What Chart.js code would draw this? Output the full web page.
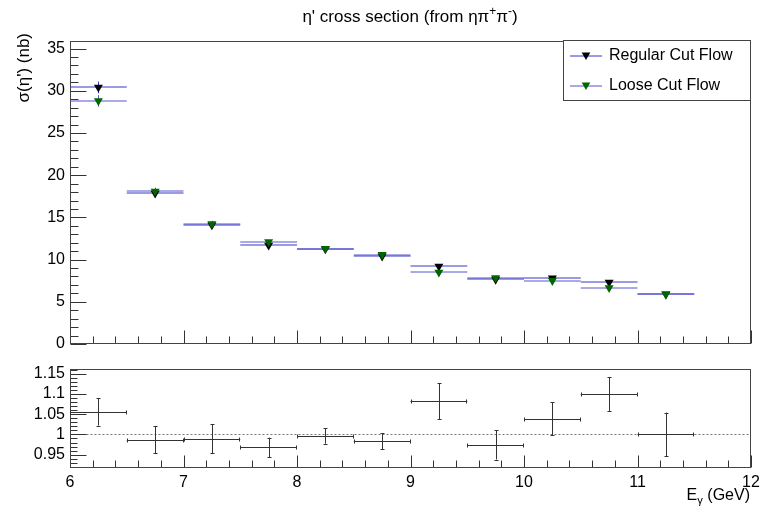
<!DOCTYPE html>
<html>
<head>
<meta charset="utf-8">
<script src="https://cdn.jsdelivr.net/npm/chart.js@4.4.1/dist/chart.umd.min.js"></script>
<style>
html, body { margin: 0; padding: 0; background: #fff; }
#wrap { position: relative; width: 760px; height: 508px; }
canvas { position: absolute; left: 0; }
#topPad { top: 0; }
#ratioPad { top: 355px; }
</style>
</head>
<body>
<div id="wrap">
  <canvas id="topPad" width="760" height="355"></canvas>
  <canvas id="ratioPad" width="760" height="153"></canvas>
</div>
<script>
/* DATA */
const binCenters = [6.25, 6.75, 7.25, 7.75, 8.25, 8.75, 9.25, 9.75, 10.25, 10.75, 11.25];
const binHalfWidth = 0.25;

const regularXs = [30.4, 17.85, 14.1, 11.7, 11.25, 10.4, 9.2, 7.65, 7.8, 7.3, 5.9];
const regularErr = [0.7, 0.42, 0.35, 0.22, 0.16, 0.15, 0.28, 0.2, 0.22, 0.22, 0.22];
const looseXs = [28.8, 18.1, 14.25, 12.1, 11.3, 10.58, 8.5, 7.85, 7.5, 6.65, 5.9];
const looseErr = [0.68, 0.42, 0.35, 0.22, 0.16, 0.15, 0.25, 0.2, 0.2, 0.2, 0.22];

const ratioVals = [1.056, 0.987, 0.989, 0.968, 0.996, 0.983, 1.082, 0.974, 1.039, 1.1, 1.0];
const ratioErr = [0.034, 0.033, 0.036, 0.024, 0.019, 0.02, 0.044, 0.036, 0.041, 0.042, 0.054];

const FONT = "'Liberation Sans', Arial, Helvetica, sans-serif";
Chart.defaults.font.family = FONT;
Chart.defaults.font.size = 16;
Chart.defaults.color = '#000';

/* rich text: parts = [[text, mode]] mode 0 normal, 1 sup, -1 sub */
function richDraw(ctx, parts, x, y, size, align) {
    let total = 0;
    const widths = parts.map(([t, m]) => {
        ctx.font = `${m ? size * 0.7 : size}px ${FONT}`;
        const w = ctx.measureText(t).width;
        total += w;
        return w;
    });
    let cx = align === 'right' ? x - total : align === 'center' ? x - total / 2 : x;
    ctx.textBaseline = 'alphabetic';
    ctx.textAlign = 'left';
    parts.forEach(([t, m], i) => {
        ctx.font = `${m ? size * 0.7 : size}px ${FONT}`;
        const dy = m === 1 ? -size * 0.42 : m === -1 ? size * 0.25 : 0;
        ctx.fillText(t, cx, y + dy);
        cx += widths[i];
    });
}

function drawTriangle(ctx, x, y, r, fill) {
    ctx.beginPath();
    ctx.moveTo(x, y + r);
    ctx.lineTo(x - r * 0.866, y - r / 2);
    ctx.lineTo(x + r * 0.866, y - r / 2);
    ctx.closePath();
    ctx.fillStyle = fill;
    ctx.fill();
}

/* error bars drawn through the chart's own scales */
const binErrorBars = {
    id: 'binErrorBars',
    beforeDatasetsDraw(chart) {
        const ctx = chart.ctx;
        const xs = chart.scales.x, ys = chart.scales.y;
        const area = chart.chartArea;
        ctx.save();
        ctx.beginPath();
        ctx.rect(area.left, area.top, area.right - area.left, area.bottom - area.top);
        ctx.clip();
        chart.data.datasets.forEach(ds => {
            ctx.strokeStyle = ds.barColor;
            ctx.lineWidth = 1;
            const off = ds.caps ? 0.5 : 0;
            ds.data.forEach((p, i) => {
                const x0 = xs.getPixelForValue(p.x - binHalfWidth);
                const x1 = xs.getPixelForValue(p.x + binHalfWidth);
                const xc = Math.round(xs.getPixelForValue(p.x)) + 0.5;
                const yc = Math.round(ys.getPixelForValue(p.y)) + off;
                const yt = ys.getPixelForValue(p.y + ds.yErr[i]);
                const yb = ys.getPixelForValue(p.y - ds.yErr[i]);
                ctx.beginPath();
                ctx.moveTo(x0, yc); ctx.lineTo(x1, yc);
                ctx.moveTo(xc, yt); ctx.lineTo(xc, yb);
                if (ds.caps) {
                    ctx.moveTo(Math.round(x0) + 0.5, yc - 2); ctx.lineTo(Math.round(x0) + 0.5, yc + 2);
                    ctx.moveTo(Math.round(x1) - 0.5, yc - 2); ctx.lineTo(Math.round(x1) - 0.5, yc + 2);
                    ctx.moveTo(xc - 2, Math.round(yt) + 0.5); ctx.lineTo(xc + 2, Math.round(yt) + 0.5);
                    ctx.moveTo(xc - 2, Math.round(yb) + 0.5); ctx.lineTo(xc + 2, Math.round(yb) + 0.5);
                }
                ctx.stroke();
            });
        });
        ctx.restore();
    }
};

/* ROOT-like frame with inside ticks */
const padFrame = {
    id: 'padFrame',
    beforeDatasetsDraw(chart, args, opts) {
        const ctx = chart.ctx;
        const a = chart.chartArea;
        const xs = chart.scales.x, ys = chart.scales.y;
        const L = Math.round(a.left) + 0.5, R = Math.round(a.right) - 0.5;
        const T = Math.round(a.top) + 0.5, B = Math.round(a.bottom) - 0.5;
        ctx.save();
        if (opts.refLine !== undefined) {
            const yr = Math.round(ys.getPixelForValue(opts.refLine)) + 0.5;
            ctx.strokeStyle = '#777';
            ctx.setLineDash([2, 2]);
            ctx.beginPath(); ctx.moveTo(L, yr); ctx.lineTo(R, yr); ctx.stroke();
            ctx.setLineDash([]);
        }
        ctx.strokeStyle = '#333';
        ctx.lineWidth = 1;
        ctx.beginPath();
        // y ticks
        const ny = Math.round((ys.max - ys.min) / opts.yMinor) + 2;
        const k0 = Math.ceil(ys.min / opts.yMinor - 1e-6);
        for (let k = k0; k < k0 + ny; k++) {
            const v = k * opts.yMinor;
            if (v > ys.max + 1e-9) break;
            const major = Math.abs(v / opts.yMajor - Math.round(v / opts.yMajor)) < 1e-6;
            const py = Math.round(ys.getPixelForValue(v)) + 0.5;
            ctx.moveTo(L, py); ctx.lineTo(L + (major ? opts.yMajorLen : opts.yMinorLen), py);
        }
        // x ticks
        const kx0 = Math.ceil(xs.min / opts.xMinor - 1e-6);
        const kx1 = Math.floor(xs.max / opts.xMinor + 1e-6);
        for (let k = kx0; k <= kx1; k++) {
            const v = k * opts.xMinor;
            const major = Math.abs(v / opts.xMajor - Math.round(v / opts.xMajor)) < 1e-6;
            const px = Math.round(xs.getPixelForValue(v)) + 0.5;
            ctx.moveTo(px, B); ctx.lineTo(px, B - (major ? opts.xMajorLen : opts.xMinorLen));
        }
        ctx.stroke();
        ctx.strokeStyle = '#444';
        ctx.strokeRect(L, T, R - L, B - T);
        ctx.restore();
    }
};

/* titles and legend of the upper pad */
const topDecor = {
    id: 'topDecor',
    afterDraw(chart) {
        const ctx = chart.ctx;
        ctx.save();
        ctx.fillStyle = '#000';
        richDraw(ctx, [["\u03b7' cross section (from \u03b7\u03c0", 0], ['+', 1], ['\u03c0', 0], ['-', 1], [')', 0]], 410, 22, 17, 'center');

        ctx.save();
        ctx.translate(29, 33);
        ctx.rotate(-Math.PI / 2);
        richDraw(ctx, [["\u03c3(\u03b7') (nb)", 0]], 0, 0, 17, 'right');
        ctx.restore();

        // legend
        ctx.strokeStyle = '#444';
        ctx.lineWidth = 1;
        ctx.fillStyle = '#fff';
        ctx.fillRect(563.5, 40.5, 187, 60);
        ctx.strokeRect(563.5, 40.5, 187, 60);
        const rows = [56, 86];
        chart.data.datasets.forEach((ds, i) => {
            const y = rows[i];
            ctx.strokeStyle = ds.barColor;
            ctx.beginPath(); ctx.moveTo(570, y); ctx.lineTo(602, y); ctx.stroke();
            drawTriangle(ctx, 586, y - 1, 5, ds.backgroundColor);
            ctx.fillStyle = '#000';
            ctx.font = `16px ${FONT}`;
            ctx.textAlign = 'left';
            ctx.textBaseline = 'middle';
            ctx.fillText(ds.label, 609, y);
        });
        ctx.restore();
    }
};

const ratioDecor = {
    id: 'ratioDecor',
    afterDraw(chart) {
        const ctx = chart.ctx;
        ctx.save();
        ctx.fillStyle = '#000';
        richDraw(ctx, [['E', 0], ['\u03b3', -1], [' (GeV)', 0]], 750, 145, 16, 'right');
        ctx.restore();
    }
};

function fixWidth(w) {
    return s => { s.width = w; s.paddingTop = 0; s.paddingBottom = 0; };
}
function fixHeight(h) {
    return s => { s.height = h; s.paddingLeft = 0; s.paddingRight = 0; };
}

const pts = arr => binCenters.map((x, i) => ({ x: x, y: arr[i] }));

new Chart(document.getElementById('topPad'), {
    type: 'scatter',
    data: {
        datasets: [
            {
                label: 'Regular Cut Flow',
                data: pts(regularXs),
                yErr: regularErr,
                barColor: 'rgb(55,55,200)',
                pointStyle: 'triangle',
                rotation: 180,
                pointRadius: 5.2,
                backgroundColor: '#000000',
                borderColor: '#000000',
                borderWidth: 0,
                order: 2,
            },
            {
                label: 'Loose Cut Flow',
                data: pts(looseXs),
                yErr: looseErr,
                barColor: 'rgb(85,85,205)',
                pointStyle: 'triangle',
                rotation: 180,
                pointRadius: 5.2,
                backgroundColor: '#006600',
                borderColor: '#006600',
                borderWidth: 0,
                order: 1,
            },
        ],
    },
    options: {
        responsive: false,
        devicePixelRatio: 1,
        animation: false,
        events: [],
        layout: { padding: { left: 0, right: 9, top: 41, bottom: 0 } },
        scales: {
            x: {
                type: 'linear', min: 6, max: 12,
                grid: { display: false }, border: { display: false },
                ticks: { display: false },
                afterFit: fixHeight(11),
            },
            y: {
                type: 'linear', min: 0, max: 35.9,
                grid: { display: false, drawTicks: false }, border: { display: false },
                ticks: { stepSize: 5, includeBounds: false, padding: 5 },
                afterFit: fixWidth(70),
            },
        },
        plugins: {
            legend: { display: false },
            tooltip: { enabled: false },
            padFrame: { yMajor: 5, yMinor: 1, yMajorLen: 16, yMinorLen: 8, xMajor: 1, xMinor: 0.2, xMajorLen: 13, xMinorLen: 7 },
        },
    },
    plugins: [padFrame, binErrorBars, topDecor],
});

new Chart(document.getElementById('ratioPad'), {
    type: 'scatter',
    data: {
        datasets: [
            {
                label: 'Regular / Loose',
                data: pts(ratioVals),
                yErr: ratioErr,
                barColor: '#333',
                caps: true,
                pointRadius: 0,
            },
        ],
    },
    options: {
        responsive: false,
        devicePixelRatio: 1,
        animation: false,
        events: [],
        layout: { padding: { left: 0, right: 9, top: 14, bottom: 0 } },
        scales: {
            x: {
                type: 'linear', min: 6, max: 12,
                grid: { display: false, drawTicks: false }, border: { display: false },
                ticks: { stepSize: 1, padding: 5, maxRotation: 0 },
                afterFit: fixHeight(40),
            },
            y: {
                type: 'linear', min: 0.917, max: 1.1616,
                grid: { display: false, drawTicks: false }, border: { display: false },
                ticks: { stepSize: 0.05, includeBounds: false, padding: 5, callback: v => String(+v.toFixed(2)) },
                afterFit: fixWidth(70),
            },
        },
        plugins: {
            legend: { display: false },
            tooltip: { enabled: false },
            padFrame: { yMajor: 0.05, yMinor: 0.01, yMajorLen: 16, yMinorLen: 7, xMajor: 1, xMinor: 0.2, xMajorLen: 12, xMinorLen: 7, refLine: 1 },
        },
    },
    plugins: [padFrame, binErrorBars, ratioDecor],
});
</script>
</body>
</html>
